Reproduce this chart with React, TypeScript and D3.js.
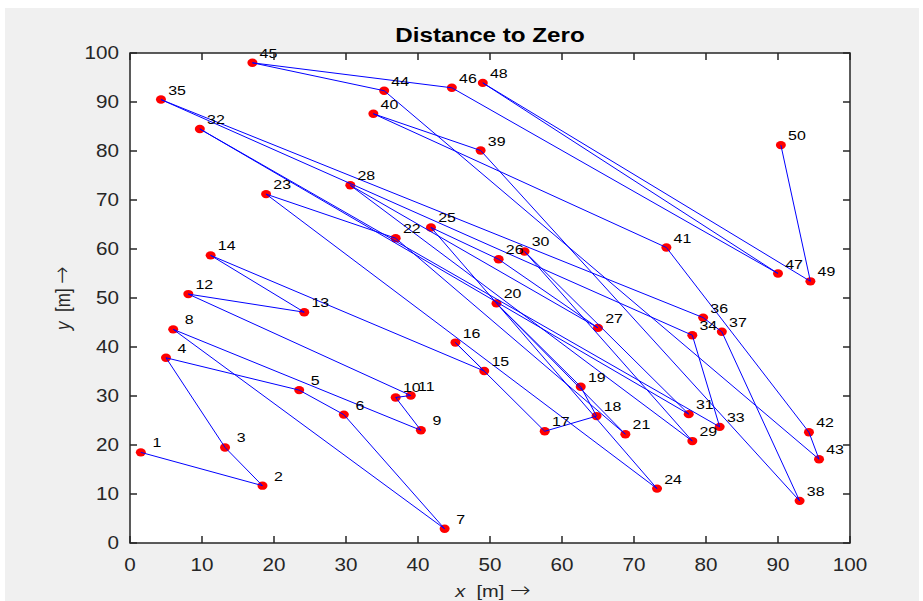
import React from "react";
import * as d3 from "d3";

// point coordinates, visiting order 1..50
const xs = [
  1.5, 18.4, 13.2, 5.0, 23.5, 29.7, 43.7, 6.0, 40.4, 36.9,
  39.0, 8.1, 24.2, 11.2, 49.2, 45.2, 57.6, 64.8, 62.6, 50.9,
  68.8, 36.9, 18.9, 73.2, 41.8, 51.2, 65.0, 30.6, 78.1, 54.8,
  77.6, 9.7, 81.9, 78.1, 4.3, 79.6, 82.2, 93.0, 48.7, 33.8,
  74.5, 94.3, 95.7, 35.3, 17.0, 44.7, 90.0, 49.0, 94.5, 90.4,
];
const ys = [
  18.5, 11.7, 19.5, 37.8, 31.2, 26.2, 2.9, 43.6, 23.0, 29.7,
  30.1, 50.8, 47.1, 58.7, 35.1, 40.9, 22.8, 25.9, 31.9, 48.9,
  22.2, 62.2, 71.2, 11.1, 64.4, 57.9, 43.9, 73.0, 20.8, 59.5,
  26.3, 84.5, 23.7, 42.4, 90.5, 46.0, 43.1, 8.6, 80.1, 87.6,
  60.3, 22.6, 17.1, 92.3, 98.0, 92.9, 55.0, 93.9, 53.4, 81.2,
];
const xTicks = [0, 10, 20, 30, 40, 50, 60, 70, 80, 90, 100];
const yTicks = [0, 10, 20, 30, 40, 50, 60, 70, 80, 90, 100];

const W = 923;
const H = 601;
const left = 130, right = 850, top = 53, bottom = 543;
const sx = 1.18; // figure is stretched sideways
const font = "'Liberation Sans', Arial, Helvetica, sans-serif";
const arrowFont = "'DejaVu Sans', sans-serif";
const axisColor = "#262626";

export default function App() {
  const x = d3.scaleLinear().domain([0, 100]).range([left, right]);
  const y = d3.scaleLinear().domain([0, 100]).range([bottom, top]);

  const pts = xs.map((d, i) => ({ x: d, y: ys[i], label: String(i + 1).padStart(2, " ") }));
  const line = d3.line<{ x: number; y: number }>().x(d => x(d.x)).y(d => y(d.y));
  const tickLen = 7;

  return (
    <svg width={W} height={H} style={{ position: "absolute", left: 0, top: 0 }}>
      <rect x={0} y={0} width={W} height={H} fill="#fff" />
      <rect x={5} y={8} width={914} height={H - 8} fill="#f0f0f0" />
      <rect x={left} y={top} width={right - left} height={bottom - top} fill="#fff" />

      {/* markers */}
      {pts.map((d, i) => (
        <ellipse key={"m" + i} cx={x(d.x)} cy={y(d.y)} rx={5} ry={4.2} fill="#ff0000" />
      ))}
      <path d={line(pts) || ""} fill="none" stroke="#0000ff" strokeWidth={1} />

      {/* point labels */}
      {pts.map((d, i) => (
        <text
          key={"t" + i}
          transform={`translate(${x(d.x + 1)}, ${y(d.y + 2) + 4.8}) scale(${sx},1)`}
          fontFamily={font}
          fontSize={13.5}
          fill="#000"
          xmlSpace="preserve"
          style={{ whiteSpace: "pre" }}
        >
          {d.label}
        </text>
      ))}

      {/* box and ticks */}
      <rect x={left} y={top} width={right - left} height={bottom - top} fill="none" stroke={axisColor} strokeWidth={1.5} />
      {xTicks.map(t => (
        <g key={"xt" + t}>
          <line x1={x(t)} x2={x(t)} y1={bottom} y2={bottom - tickLen} stroke={axisColor} strokeWidth={1.5} />
          <line x1={x(t)} x2={x(t)} y1={top} y2={top + tickLen} stroke={axisColor} strokeWidth={1.5} />
          <text
            transform={`translate(${x(t)}, 571) scale(${sx},1)`}
            textAnchor="middle"
            fontFamily={font}
            fontSize={17.5}
            fill={axisColor}
          >
            {t}
          </text>
        </g>
      ))}
      {yTicks.map(t => (
        <g key={"yt" + t}>
          <line x1={left} x2={left + tickLen} y1={y(t)} y2={y(t)} stroke={axisColor} strokeWidth={1.5} />
          <line x1={right} x2={right - tickLen} y1={y(t)} y2={y(t)} stroke={axisColor} strokeWidth={1.5} />
          <text
            transform={`translate(${left - 11}, ${y(t) + 6.3}) scale(${sx},1)`}
            textAnchor="end"
            fontFamily={font}
            fontSize={17.5}
            fill={axisColor}
          >
            {t}
          </text>
        </g>
      ))}

      {/* title and axis labels */}
      <text
        transform={`translate(${(left + right) / 2}, 42) scale(${sx},1)`}
        textAnchor="middle"
        fontFamily={font}
        fontSize={20.5}
        fontWeight="bold"
        fill="#000"
      >
        Distance to Zero
      </text>
      <text
        transform={`translate(${(left + right) / 2 + 3}, 597) scale(${sx},1)`}
        textAnchor="middle"
        fontFamily={font}
        fontSize={17}
        fill={axisColor}
        xmlSpace="preserve"
        style={{ whiteSpace: "pre" }}
      >
        <tspan fontStyle="italic">x</tspan>
        <tspan>{"  [m] "}</tspan>
        <tspan fontFamily={arrowFont} fontSize={21} fontWeight={200}>{"\u2192"}</tspan>
      </text>
      <text
        transform={`translate(70, ${(top + bottom) / 2}) rotate(-90) scale(1,${sx})`}
        textAnchor="middle"
        fontFamily={font}
        fontSize={17}
        fill={axisColor}
        xmlSpace="preserve"
        style={{ whiteSpace: "pre" }}
      >
        <tspan fontStyle="italic">y</tspan>
        <tspan>{"  [m] "}</tspan>
        <tspan fontFamily={arrowFont} fontSize={21} fontWeight={200}>{"\u2192"}</tspan>
      </text>
    </svg>
  );
}
